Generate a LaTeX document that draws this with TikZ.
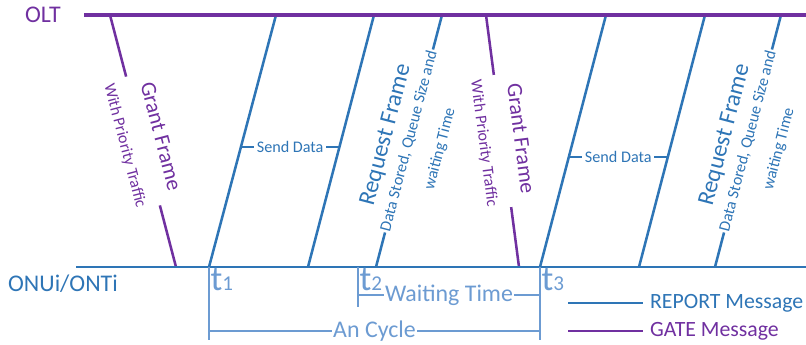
\documentclass[tikz,border=0pt]{standalone}
\usepackage{fontspec}
\setmainfont{Carlito}
\usetikzlibrary{positioning, calc}
\definecolor{rep}{HTML}{2E75B6}
\definecolor{gat}{HTML}{7030A0}
\definecolor{tim}{HTML}{6C9BD2}
\newcommand{\tstamp}[1]{{\fontsize{25}{25}\selectfont t}{\fontsize{15}{15}\selectfont #1}}

\begin{document}
\begin{tikzpicture}[
  report/.style={draw=rep, line width=1.8pt},
  gate/.style={draw=gat, line width=1.8pt},
  tick/.style={draw=rep, line width=1.4pt},
  bracket/.style={draw=tim, line width=1.7pt},
  lbl/.style={font=\fontsize{17}{20}\selectfont},
  note/.style={font=\fontsize{11.5}{13}\selectfont, inner sep=1pt},
  reqtitle/.style={font=\fontsize{17}{20}\selectfont, inner sep=0pt},
  tlabel/.style={text=tim, anchor=north west, inner sep=1pt},
  legend/.style={font=\fontsize{15.5}{18}\selectfont, inner sep=2pt}]
  \useasboundingbox (0,0) rectangle (20.15,8.6);

  % time axes
  \coordinate (olta) at (2.1,8.225);
  \coordinate (oltb) at (20.15,8.225);
  \coordinate (onua) at (1.9,1.925);
  \coordinate (onub) at (20.15,1.925);
  \node[lbl, text=gat] (olt) at (1.075,8.225) {OLT};
  \node[lbl, text=rep] (onu) at (1.575,1.5) {ONUi/ONTi};

  % end points of the messages
  \coordinate (g1t) at (2.75,8.225);   \coordinate (g1b) at (4.4,1.925);
  \coordinate (s1t) at (6.9,8.225);    \coordinate (s1b) at (5.225,1.925);
  \coordinate (s2t) at (9.35,8.225);   \coordinate (s2b) at (7.7,1.925);
  \coordinate (r1t) at (11.05,8.225);  \coordinate (r1b) at (9.4,1.925);
  \coordinate (g2t) at (12.15,8.225);  \coordinate (g2b) at (12.975,1.925);
  \coordinate (s3t) at (15.15,8.225);  \coordinate (s3b) at (13.5,1.925);
  \coordinate (s4t) at (17.625,8.225); \coordinate (s4b) at (15.975,1.925);
  \coordinate (r2t) at (19.525,8.225); \coordinate (r2b) at (17.875,1.925);

  % GATE messages
  \draw[gate] (g1t) -- (g1b)
    node[midway, sloped, fill=white, align=center, text=gat, note, inner sep=2pt]
    {{\fontsize{15.5}{18}\selectfont Grant Frame}\\[12pt]With Priority Traffic};
  \draw[gate] (g2t) -- (g2b)
    node[midway, sloped, fill=white, align=center, text=gat, note, inner sep=2pt]
    {{\fontsize{15.5}{18}\selectfont Grant Frame}\\[12pt]With Priority Traffic};

  % data
  \draw[report] (s1b) -- (s1t);
  \draw[report] (s2b) -- (s2t);
  \draw[report] (s3b) -- (s3t);
  \draw[report] (s4b) -- (s4t);
  \coordinate (d1a) at ($(s1t)!0.524!(s1b)$);
  \coordinate (d1b) at ($(s2t)!0.524!(s2b)$);
  \coordinate (d2a) at ($(s3t)!0.564!(s3b)$);
  \coordinate (d2b) at ($(s4t)!0.564!(s4b)$);
  \draw[tick] (d1a) -- (d1b) node[midway, fill=white, note, text=rep, inner sep=2pt] {Send Data};
  \draw[tick] (d2a) -- (d2b) node[midway, fill=white, note, text=rep, inner sep=2pt] {Send Data};

  % REPORT messages
  \draw[report] (r1b) -- (r1t)
    node[midway, sloped, fill=white, note, text=rep] {Data Stored, Queue Size and}
    node[midway, sloped, above=9pt, reqtitle, text=rep] {Request Frame}
    node[midway, sloped, below=17pt, note, inner sep=0pt, text=rep] {waiting Time};
  \draw[report] (r2b) -- (r2t)
    node[midway, sloped, fill=white, note, text=rep] {Data Stored, Queue Size and}
    node[midway, sloped, above=9pt, reqtitle, text=rep] {Request Frame}
    node[midway, sloped, below=17pt, note, inner sep=0pt, text=rep] {waiting Time};

  \draw[gate, line width=2.2pt] (olta) -- (oltb);
  \draw[report] (onua) -- (onub);

  % cycle and waiting time
  \coordinate (t1a) at (5.225,1.925); \coordinate (t1b) at (5.225,0.1);
  \coordinate (t2a) at (8.95,1.925);  \coordinate (t2b) at (8.95,0.925);
  \coordinate (t3a) at (13.5,1.925);  \coordinate (t3b) at (13.5,0.1);
  \coordinate (w1) at (8.95,1.225);   \coordinate (w2) at (13.5,1.225);
  \coordinate (c1) at (5.225,0.325);  \coordinate (c2) at (13.5,0.325);
  \draw[bracket] (t1a) -- (t1b);
  \draw[bracket] (t2a) -- (t2b);
  \draw[bracket] (t3a) -- (t3b);
  \draw[bracket] (w1) -- (w2) node[midway, fill=white, lbl, text=tim, inner sep=1pt] {Waiting Time};
  \draw[bracket] (c1) -- (c2) node[midway, fill=white, lbl, text=tim, inner sep=1pt] {An Cycle};
  \node[tlabel] (t1) at (t1a) {\tstamp{1}};
  \node[tlabel] (t2) at (t2a) {\tstamp{2}};
  \node[tlabel] (t3) at (t3a) {\tstamp{3}};

  % legend
  \coordinate (lr1) at (14.2,1.025);  \coordinate (lr2) at (16.075,1.025);
  \coordinate (lg1) at (14.2,0.325);  \coordinate (lg2) at (16.075,0.325);
  \draw[report] (lr1) -- (lr2);
  \draw[gate] (lg1) -- (lg2);
  \node[legend, text=rep, right=0.1cm of lr2] (lrep) {REPORT Message};
  \node[legend, text=gat, right=0.1cm of lg2] (lgat) {GATE Message};
\end{tikzpicture}
\end{document}
